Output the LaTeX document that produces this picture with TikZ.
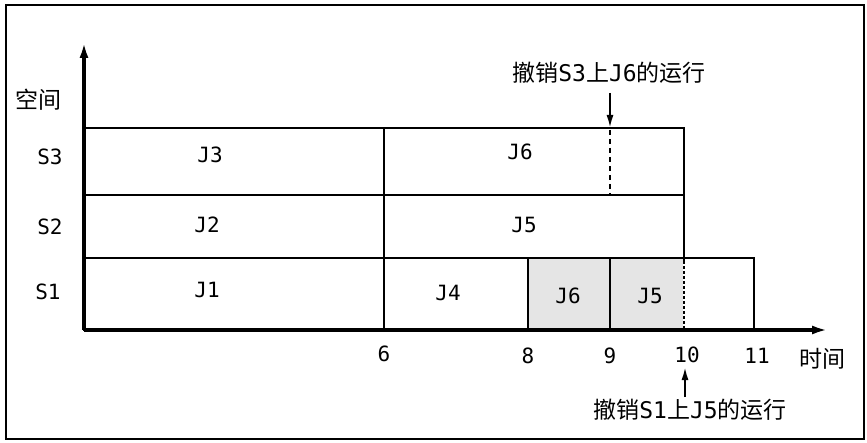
\documentclass[tikz,border=0pt]{standalone}
\usepackage{fontspec}
\newfontfamily\cjk{Noto Sans CJK SC}
\newfontfamily\monof{DejaVu Sans Mono}
\usetikzlibrary{arrows.meta}
\begin{document}
\begin{tikzpicture}[x=1pt,y=-1pt,
  cell/.style={draw=black,line width=1.8pt},
  shaded/.style={cell,fill=gray!20},
  axis/.style={line width=3.2pt,-{Latex[length=16pt,width=9pt]}},
  note/.style={line width=2pt,-{Latex[length=13pt,width=7pt]}},
  lab/.style={font=\monof\fontsize{21}{21}\selectfont,inner sep=0pt},
  cn/.style={font=\cjk\fontsize{23}{23}\selectfont,inner sep=0pt}]
\useasboundingbox (0,0) rectangle (867,443);
\draw[line width=1.6pt] (6,5) rectangle (864,439);
% cells
\draw[cell] (84,128) rectangle (384,195);
\draw[cell] (384,128) rectangle (684,195);
\draw[cell] (84,195) rectangle (384,258);
\draw[cell] (384,195) rectangle (684,258);
\draw[cell] (84,258) rectangle (384,330);
\draw[cell] (384,258) rectangle (528,330);
\draw[shaded] (528,258) rectangle (610,330);
\draw[shaded] (610,258) rectangle (684,330);
\draw[cell] (684,258) rectangle (754,330);
\draw[line width=2pt,white] (684,261) -- (684,327);
\draw[line width=1.6pt,dash pattern=on 3pt off 2pt] (684,261) -- (684,327);
\draw[line width=1.4pt,dash pattern=on 5pt off 4pt] (610,130) -- (610,195);
% axes
\coordinate (O) at (84,330);
\coordinate (Y) at (84,42);
\coordinate (X) at (828,330);
\draw[axis] (O) -- (Y);
\draw[axis] (O) -- (X);
% labels
\node[cn] (ky) at (38,100) {空间};
\node[lab] (s3) at (50,157) {S3};
\node[lab] (s2) at (50,227) {S2};
\node[lab] (s1) at (48,292) {S1};
\node[lab] (j3) at (210,155) {J3};
\node[lab] (j2) at (207,225) {J2};
\node[lab] (j1) at (207,290) {J1};
\node[lab] (j6a) at (520,152) {J6};
\node[lab] (j5a) at (524,225) {J5};
\node[lab] (j4) at (448,293) {J4};
\node[lab] (j6b) at (568,296) {J6};
\node[lab] (j5b) at (650,296) {J5};
\node[lab] (t6) at (384,354) {6};
\node[lab] (t8) at (528,356) {8};
\node[lab] (t9) at (610,356) {9};
\node[lab] (t10) at (687,355) {10};
\node[lab] (t11) at (757,356) {11};
\node[cn] (sj) at (822,359) {时间};
\node[cn] (n1) at (609,73) {撤销\monof S3\cjk 上\monof J6\cjk 的运行};
\node[cn] (n2) at (690,410) {撤销\monof S1\cjk 上\monof J5\cjk 的运行};
\coordinate (a1s) at (610,93);
\coordinate (a1e) at (610,128);
\coordinate (a2s) at (685,397);
\coordinate (a2e) at (685,367);
\draw[note] (a1s) -- (a1e);
\draw[note] (a2s) -- (a2e);
\end{tikzpicture}
\end{document}
